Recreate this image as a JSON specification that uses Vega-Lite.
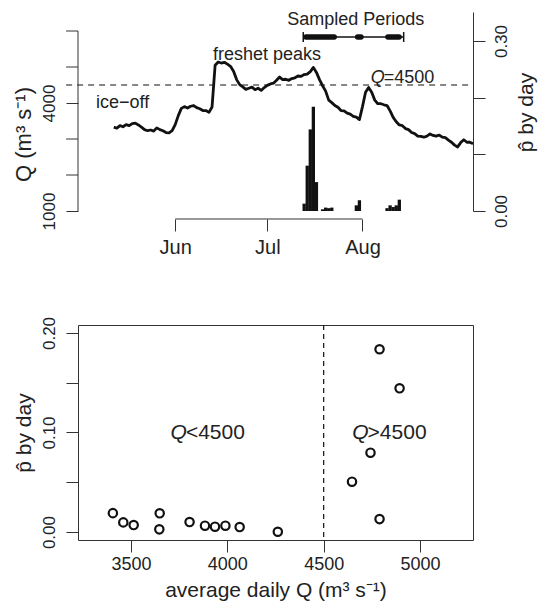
{
  "$schema": "https://vega.github.io/schema/vega-lite/v6.json",
  "background": "white",
  "padding": {"left": 12, "top": 11, "right": 5, "bottom": 5},
  "spacing": 58,
  "config": {
    "font": "Liberation Sans",
    "view": {"stroke": null},
    "axis": {"grid": false, "domainColor": "#333", "tickColor": "#333", "labelColor": "#222", "titleColor": "#222", "titleFontWeight": "normal", "tickSize": 12, "labelOverlap": false, "labelBound": false, "labelFlush": false}
  },
  "datasets": {
    "flow": [
      {"date": "2010-05-12", "Q": 3330}, {"date": "2010-05-13", "Q": 3300}, {"date": "2010-05-14", "Q": 3370}, {"date": "2010-05-15", "Q": 3340},
      {"date": "2010-05-16", "Q": 3400}, {"date": "2010-05-17", "Q": 3370}, {"date": "2010-05-18", "Q": 3430}, {"date": "2010-05-19", "Q": 3440},
      {"date": "2010-05-20", "Q": 3390}, {"date": "2010-05-21", "Q": 3330}, {"date": "2010-05-22", "Q": 3260}, {"date": "2010-05-23", "Q": 3230},
      {"date": "2010-05-24", "Q": 3250}, {"date": "2010-05-25", "Q": 3220}, {"date": "2010-05-26", "Q": 3310}, {"date": "2010-05-27", "Q": 3260},
      {"date": "2010-05-28", "Q": 3230}, {"date": "2010-05-29", "Q": 3180}, {"date": "2010-05-30", "Q": 3170}, {"date": "2010-05-31", "Q": 3230},
      {"date": "2010-06-01", "Q": 3400}, {"date": "2010-06-02", "Q": 3650}, {"date": "2010-06-03", "Q": 3850}, {"date": "2010-06-04", "Q": 3900},
      {"date": "2010-06-05", "Q": 3860}, {"date": "2010-06-06", "Q": 3910}, {"date": "2010-06-07", "Q": 3930}, {"date": "2010-06-08", "Q": 3870},
      {"date": "2010-06-09", "Q": 3840}, {"date": "2010-06-10", "Q": 3790}, {"date": "2010-06-11", "Q": 3790}, {"date": "2010-06-12", "Q": 3740},
      {"date": "2010-06-13", "Q": 3890}, {"date": "2010-06-14", "Q": 5050}, {"date": "2010-06-15", "Q": 5140}, {"date": "2010-06-16", "Q": 5110},
      {"date": "2010-06-17", "Q": 5130}, {"date": "2010-06-18", "Q": 5080}, {"date": "2010-06-19", "Q": 5020}, {"date": "2010-06-20", "Q": 4880},
      {"date": "2010-06-21", "Q": 4650}, {"date": "2010-06-22", "Q": 4510}, {"date": "2010-06-23", "Q": 4450}, {"date": "2010-06-24", "Q": 4380},
      {"date": "2010-06-25", "Q": 4410}, {"date": "2010-06-26", "Q": 4440}, {"date": "2010-06-27", "Q": 4370}, {"date": "2010-06-28", "Q": 4410},
      {"date": "2010-06-29", "Q": 4350}, {"date": "2010-06-30", "Q": 4430}, {"date": "2010-07-01", "Q": 4490}, {"date": "2010-07-02", "Q": 4530},
      {"date": "2010-07-03", "Q": 4550}, {"date": "2010-07-04", "Q": 4630}, {"date": "2010-07-05", "Q": 4720}, {"date": "2010-07-06", "Q": 4650},
      {"date": "2010-07-07", "Q": 4660}, {"date": "2010-07-08", "Q": 4630}, {"date": "2010-07-09", "Q": 4680}, {"date": "2010-07-10", "Q": 4700},
      {"date": "2010-07-11", "Q": 4750}, {"date": "2010-07-12", "Q": 4740}, {"date": "2010-07-13", "Q": 4790}, {"date": "2010-07-14", "Q": 4800},
      {"date": "2010-07-15", "Q": 4870}, {"date": "2010-07-16", "Q": 4990}, {"date": "2010-07-17", "Q": 4850}, {"date": "2010-07-18", "Q": 4650},
      {"date": "2010-07-19", "Q": 4480}, {"date": "2010-07-20", "Q": 4330}, {"date": "2010-07-21", "Q": 4080}, {"date": "2010-07-22", "Q": 4010},
      {"date": "2010-07-23", "Q": 3930}, {"date": "2010-07-24", "Q": 3880}, {"date": "2010-07-25", "Q": 3790}, {"date": "2010-07-26", "Q": 3780},
      {"date": "2010-07-27", "Q": 3720}, {"date": "2010-07-28", "Q": 3690}, {"date": "2010-07-29", "Q": 3630}, {"date": "2010-07-30", "Q": 3610},
      {"date": "2010-07-31", "Q": 3540}, {"date": "2010-08-01", "Q": 3900}, {"date": "2010-08-02", "Q": 4300}, {"date": "2010-08-03", "Q": 4430},
      {"date": "2010-08-04", "Q": 4300}, {"date": "2010-08-05", "Q": 4080}, {"date": "2010-08-06", "Q": 3980}, {"date": "2010-08-07", "Q": 3980},
      {"date": "2010-08-08", "Q": 3950}, {"date": "2010-08-09", "Q": 3930}, {"date": "2010-08-10", "Q": 3780}, {"date": "2010-08-11", "Q": 3600},
      {"date": "2010-08-12", "Q": 3480}, {"date": "2010-08-13", "Q": 3390}, {"date": "2010-08-14", "Q": 3370}, {"date": "2010-08-15", "Q": 3290},
      {"date": "2010-08-16", "Q": 3260}, {"date": "2010-08-17", "Q": 3180}, {"date": "2010-08-18", "Q": 3150}, {"date": "2010-08-19", "Q": 3080},
      {"date": "2010-08-20", "Q": 3070}, {"date": "2010-08-21", "Q": 3050}, {"date": "2010-08-22", "Q": 3080}, {"date": "2010-08-23", "Q": 3140},
      {"date": "2010-08-24", "Q": 3100}, {"date": "2010-08-25", "Q": 3080}, {"date": "2010-08-26", "Q": 3110}, {"date": "2010-08-27", "Q": 3050},
      {"date": "2010-08-28", "Q": 3040}, {"date": "2010-08-29", "Q": 2970}, {"date": "2010-08-30", "Q": 2910}, {"date": "2010-08-31", "Q": 2830},
      {"date": "2010-09-01", "Q": 2780}, {"date": "2010-09-02", "Q": 2900}, {"date": "2010-09-03", "Q": 2980}, {"date": "2010-09-04", "Q": 2910},
      {"date": "2010-09-05", "Q": 2910}, {"date": "2010-09-06", "Q": 2870}
    ],
    "phat": [
      {"date": "2010-07-13", "p": 0.013}, {"date": "2010-07-14", "p": 0.080}, {"date": "2010-07-15", "p": 0.144}, {"date": "2010-07-16", "p": 0.184},
      {"date": "2010-07-17", "p": 0.051}, {"date": "2010-07-19", "p": 0.003}, {"date": "2010-07-20", "p": 0.006}, {"date": "2010-07-21", "p": 0.005},
      {"date": "2010-07-22", "p": 0.006}, {"date": "2010-07-30", "p": 0.010}, {"date": "2010-07-31", "p": 0.019}, {"date": "2010-08-09", "p": 0.005},
      {"date": "2010-08-10", "p": 0.010}, {"date": "2010-08-11", "p": 0.007}, {"date": "2010-08-12", "p": 0.010}, {"date": "2010-08-13", "p": 0.020}
    ],
    "sampledSpan": [{"start": "2010-07-12T17:00:00Z", "end": "2010-08-14T10:00:00Z"}],
    "sampledThick": [
      {"start": "2010-07-13T14:00:00Z", "end": "2010-07-22T19:00:00Z"},
      {"start": "2010-07-30T10:00:00Z", "end": "2010-07-31T12:00:00Z"},
      {"start": "2010-08-09T07:00:00Z", "end": "2010-08-12T22:00:00Z"}
    ],
    "sampledEnds": [{"date": "2010-07-12T17:00:00Z"}, {"date": "2010-08-14T10:00:00Z"}],
    "qMinorTicks": [{"Q": 2000}, {"Q": 3000}, {"Q": 5000}, {"Q": 6000}],
    "topNotes": [
      {"date": "2010-06-30T22:00:00Z", "Q": 5333, "label": "freshet peaks"},
      {"date": "2010-05-14T21:00:00Z", "Q": 4000, "label": "ice\u2212off"}
    ],
    "topQ": [{"date": "2010-08-07T22:00:00Z", "Q": 4694, "label": "=4500"}],
    "scatter": [
      {"Q": 3406, "p": 0.019}, {"Q": 3460, "p": 0.0097}, {"Q": 3514, "p": 0.007}, {"Q": 3649, "p": 0.0188},
      {"Q": 3647, "p": 0.0027}, {"Q": 3804, "p": 0.010}, {"Q": 3884, "p": 0.0064}, {"Q": 3936, "p": 0.0054},
      {"Q": 3990, "p": 0.0064}, {"Q": 4064, "p": 0.005}, {"Q": 4262, "p": 0.0003}, {"Q": 4790, "p": 0.1836},
      {"Q": 4894, "p": 0.1444}, {"Q": 4743, "p": 0.0797}, {"Q": 4647, "p": 0.0506}, {"Q": 4790, "p": 0.013}
    ],
    "bottomNotes": [{"Q": 3785, "p": 0.1, "label": "<4500"}, {"Q": 4728, "p": 0.1, "label": ">4500"}]
  },
  "vconcat": [
    {
      "width": 395,
      "height": 199,
      "layer": [
        {
          "layer": [
            {
              "data": {"name": "flow"},
              "mark": {"type": "line", "color": "#111", "strokeWidth": 2.8, "strokeJoin": "round"},
              "encoding": {
                "x": {
                  "field": "date", "type": "temporal", "title": null,
                  "scale": {"type": "utc", "domain": [{"year": 2010, "month": 4, "date": 30, "hours": 8, "utc": true}, {"year": 2010, "month": 9, "date": 6, "utc": true}]},
                  "axis": {
                    "values": [{"year": 2010, "month": 6, "date": 1, "utc": true}, {"year": 2010, "month": 7, "date": 1, "utc": true}, {"year": 2010, "month": 8, "date": 1, "utc": true}],
                    "labelExpr": "utcFormat(datum.value, '%b')",
                    "domain": false, "offset": 8, "tickSize": 12, "labelPadding": 6, "labelFontSize": 20, "title": null, "labelOverlap": false
                  }
                },
                "y": {
                  "field": "Q", "type": "quantitative",
                  "scale": {"domain": [1000, 6528], "nice": false, "zero": false},
                  "axis": {
                    "orient": "left", "values": [1000, 4000], "format": "d",
                    "labelOverlap": false,
                    "domain": false, "labelAngle": -90, "labelAlign": "center", "labelBaseline": "bottom", "labelPadding": 8, "labelFontSize": 17,
                    "title": "Q (m\u00b3 s\u207b\u00b9)", "titleFontSize": 22, "titleAngle": -90, "titleX": -55, "titleY": 122, "titleAlign": "center", "titleBaseline": "middle"
                  }
                }
              }
            },
            {
              "data": {"values": [{}]},
              "mark": {"type": "rule", "color": "#111", "strokeWidth": 1.2, "strokeDash": [6, 5]},
              "encoding": {
                "x": {"datum": {"year": 2010, "month": 4, "date": 26, "hours": 11, "utc": true}, "type": "temporal"},
                "x2": {"datum": {"year": 2010, "month": 9, "date": 6, "utc": true}},
                "y": {"datum": 4500}
              }
            },
            {
              "data": {"values": [{}]},
              "mark": {"type": "rule", "color": "#333", "strokeWidth": 1},
              "encoding": {
                "x": {"datum": {"year": 2010, "month": 4, "date": 30, "hours": 8, "utc": true}, "type": "temporal"},
                "y": {"datum": 1000}, "y2": {"datum": 6000}
              }
            },
            {
              "data": {"name": "qMinorTicks"},
              "mark": {"type": "rule", "color": "#333", "strokeWidth": 1},
              "encoding": {
                "x": {"datum": {"year": 2010, "month": 4, "date": 26, "hours": 11, "utc": true}, "type": "temporal"},
                "x2": {"datum": {"year": 2010, "month": 4, "date": 30, "hours": 8, "utc": true}},
                "y": {"field": "Q", "type": "quantitative"}
              }
            },
            {
              "data": {"values": [{}]},
              "mark": {"type": "rule", "color": "#333", "strokeWidth": 1},
              "encoding": {
                "x": {"datum": {"year": 2010, "month": 6, "date": 1, "utc": true}, "type": "temporal"},
                "x2": {"datum": {"year": 2010, "month": 8, "date": 1, "utc": true}},
                "y": {"datum": 778}
              }
            },
            {
              "data": {"name": "topNotes"},
              "mark": {"type": "text", "fontSize": 18, "color": "#222", "align": "center", "baseline": "middle"},
              "encoding": {"x": {"field": "date", "type": "temporal", "title": null}, "y": {"field": "Q", "type": "quantitative"}, "text": {"field": "label"}}
            },
            {
              "data": {"name": "topQ"},
              "mark": {"type": "text", "fontSize": 18, "color": "#222", "align": "left", "baseline": "middle"},
              "encoding": {"x": {"field": "date", "type": "temporal", "title": null}, "y": {"field": "Q", "type": "quantitative"}, "text": {"field": "label"}}
            },
            {
              "data": {"name": "topQ"},
              "mark": {"type": "text", "fontSize": 18, "color": "#222", "align": "right", "baseline": "middle", "fontStyle": "italic", "dx": 1},
              "encoding": {"x": {"field": "date", "type": "temporal", "title": null}, "y": {"field": "Q", "type": "quantitative"}, "text": {"value": "Q"}}
            }
          ]
        },
        {
          "layer": [
            {
              "data": {"name": "phat"},
              "mark": {"type": "rule", "color": "#111", "strokeWidth": 3.3},
              "encoding": {
                "x": {"field": "date", "type": "temporal", "title": null},
                "y": {
                  "field": "p", "type": "quantitative",
                  "scale": {"domain": [0, 0.3512], "nice": false, "zero": false},
                  "axis": {
                    "orient": "right", "values": [0, 0.05, 0.1, 0.15, 0.2, 0.25, 0.3, 0.35],
                    "labelExpr": "(round(datum.value * 100) % 15 == 0) ? format(datum.value, '.2f') : ''",
                    "labelOverlap": false,
                    "labelAngle": -90, "labelAlign": "center", "labelBaseline": "top", "labelPadding": 8, "labelFontSize": 17,
                    "title": "p\u0302 by day", "titleFontSize": 21, "titleAngle": -90, "titleX": 53, "titleY": 100, "titleAlign": "center", "titleBaseline": "middle"
                  }
                },
                "y2": {"datum": 0}
              }
            },
            {
              "data": {"name": "sampledSpan"},
              "mark": {"type": "rule", "color": "#111", "strokeWidth": 1.5},
              "encoding": {"x": {"field": "start", "type": "temporal", "title": null}, "x2": {"field": "end"}, "y": {"datum": 0.307}}
            },
            {
              "data": {"name": "sampledThick"},
              "mark": {"type": "rule", "color": "#111", "strokeWidth": 5.5, "strokeCap": "round"},
              "encoding": {"x": {"field": "start", "type": "temporal", "title": null}, "x2": {"field": "end"}, "y": {"datum": 0.307}}
            },
            {
              "data": {"name": "sampledEnds"},
              "mark": {"type": "rule", "color": "#111", "strokeWidth": 1.5},
              "encoding": {"x": {"field": "date", "type": "temporal", "title": null}, "y": {"datum": 0.2982}, "y2": {"datum": 0.3158}}
            },
            {
              "data": {"values": [{"date": "2010-07-29T19:00:00Z", "p": 0.337, "label": "Sampled Periods"}]},
              "mark": {"type": "text", "fontSize": 18, "color": "#222", "align": "center", "baseline": "middle"},
              "encoding": {"x": {"field": "date", "type": "temporal", "title": null}, "y": {"field": "p", "type": "quantitative"}, "text": {"field": "label"}}
            }
          ]
        }
      ],
      "resolve": {"scale": {"y": "independent"}, "axis": {"y": "independent"}}
    },
    {
      "width": 395,
      "height": 215,
      "view": {"stroke": "#333", "strokeWidth": 1},
      "layer": [
        {
          "data": {"name": "scatter"},
          "mark": {"type": "point", "shape": "circle", "filled": false, "size": 70, "strokeWidth": 2.2, "color": "#111", "opacity": 1},
          "encoding": {
            "x": {
              "field": "Q", "type": "quantitative",
              "scale": {"domain": [3225, 5275], "nice": false, "zero": false},
              "axis": {"values": [3500, 4000, 4500, 5000], "format": "d", "domain": false, "labelFontSize": 18, "labelPadding": 3,
                       "title": "average daily Q (m\u00b3 s\u207b\u00b9)", "titleFontSize": 21, "titlePadding": 6}
            },
            "y": {
              "field": "p", "type": "quantitative",
              "scale": {"domain": [-0.008, 0.208], "nice": false, "zero": false},
              "axis": {
                "values": [0, 0.05, 0.1, 0.15, 0.2],
                "labelExpr": "(round(datum.value * 100) % 10 == 0) ? format(datum.value, '.2f') : ''",
                "labelOverlap": false,
                "domain": false, "labelAngle": -90, "labelAlign": "center", "labelBaseline": "bottom", "labelPadding": 8, "labelFontSize": 17,
                "title": "p\u0302 by day", "titleFontSize": 21, "titleAngle": -90, "titleX": -54, "titleY": 107.5, "titleAlign": "center", "titleBaseline": "middle"
              }
            }
          }
        },
        {
          "data": {"values": [{}]},
          "mark": {"type": "rule", "color": "#111", "strokeWidth": 1.2, "strokeDash": [5, 4]},
          "encoding": {"x": {"datum": 4500}}
        },
        {
          "data": {"name": "bottomNotes"},
          "mark": {"type": "text", "fontSize": 21, "color": "#222", "align": "left", "baseline": "middle"},
          "encoding": {"x": {"field": "Q", "type": "quantitative"}, "y": {"field": "p", "type": "quantitative"}, "text": {"field": "label"}}
        },
        {
          "data": {"name": "bottomNotes"},
          "mark": {"type": "text", "fontSize": 21, "color": "#222", "align": "right", "baseline": "middle", "fontStyle": "italic", "dx": 1},
          "encoding": {"x": {"field": "Q", "type": "quantitative"}, "y": {"field": "p", "type": "quantitative"}, "text": {"value": "Q"}}
        }
      ]
    }
  ]
}
